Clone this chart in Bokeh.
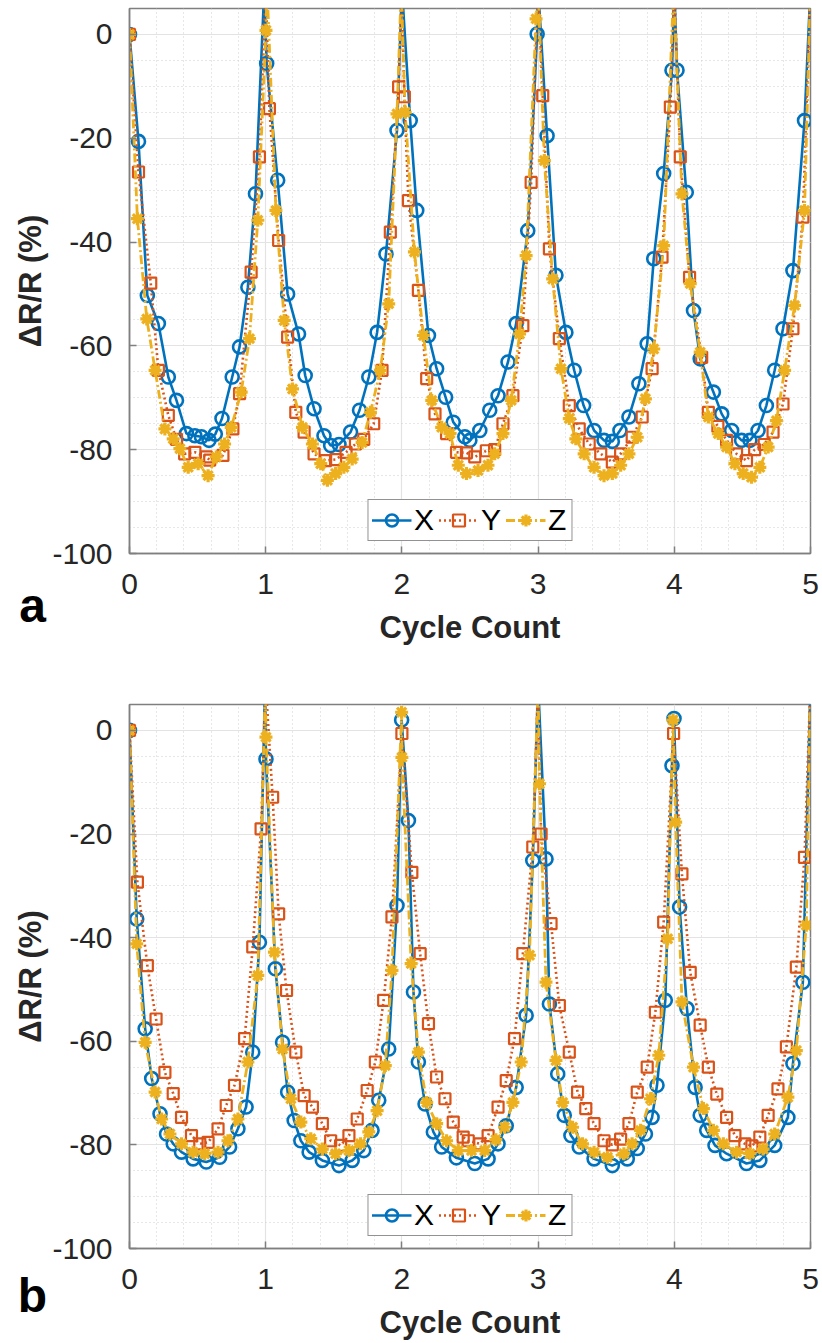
from bokeh.plotting import figure
from bokeh.layouts import column, row
from bokeh.models import (Range1d, SingleIntervalTicker, Legend, LegendItem, Label, Title)
from bokeh.embed import file_html
from bokeh.resources import INLINE
import math

# ---------------- data ----------------
# Panel a
a_x_x = [0, 0.066, 0.131, 0.212, 0.285, 0.345, 0.418, 0.48, 0.528, 0.584, 0.63, 0.679, 0.754, 0.808, 0.869, 0.925, 0.99, 1.007, 1.088, 1.161, 1.241, 1.29, 1.355, 1.428, 1.477, 1.538, 1.623, 1.689, 1.757, 1.818, 1.883, 1.964, 2.0, 2.061, 2.109, 2.195, 2.255, 2.321, 2.377, 2.462, 2.499, 2.572, 2.645, 2.706, 2.779, 2.839, 2.924, 2.993, 3.0, 3.066, 3.131, 3.204, 3.265, 3.334, 3.411, 3.484, 3.545, 3.601, 3.667, 3.74, 3.801, 3.849, 3.922, 3.983, 4.0, 4.02, 4.088, 4.141, 4.19, 4.287, 4.348, 4.421, 4.494, 4.555, 4.615, 4.676, 4.737, 4.798, 4.871, 4.956, 5.0]
a_x_y = [0, -20.6, -50.3, -55.7, -66, -70.5, -76.9, -77.3, -77.5, -78.2, -77, -74, -66, -60.2, -48.7, -30.7, 9, -5.6, -28.1, -50, -57.7, -65.7, -72.1, -77.3, -79.2, -79, -76.6, -72.4, -66, -57.4, -42.3, -18.5, 9, -16.6, -33.9, -58, -64.4, -69.9, -74.7, -77.5, -78.2, -76.3, -72.4, -69.6, -63.1, -55.7, -37.8, 0.1, 9, -19.5, -46.4, -57.4, -64.7, -71.5, -76.3, -78.2, -78.4, -76.3, -73.7, -67.3, -59.6, -43.2, -26.8, -6.9, 9, -6.9, -30.4, -53.2, -62.5, -68.9, -73.1, -76.3, -78.2, -78.2, -76.3, -71.5, -64.7, -56.7, -45.5, -16.6, 9]

a_y_x = [0, 0.066, 0.156, 0.212, 0.285, 0.345, 0.405, 0.48, 0.565, 0.589, 0.686, 0.759, 0.808, 0.893, 0.954, 1.0, 1.027, 1.095, 1.161, 1.221, 1.282, 1.355, 1.44, 1.513, 1.59, 1.659, 1.72, 1.793, 1.854, 1.915, 1.976, 2.0, 2.018, 2.048, 2.121, 2.182, 2.243, 2.328, 2.401, 2.474, 2.535, 2.62, 2.681, 2.742, 2.815, 2.888, 2.949, 3.0, 3.034, 3.083, 3.156, 3.229, 3.302, 3.375, 3.46, 3.545, 3.606, 3.691, 3.764, 3.837, 3.91, 3.971, 4.0, 4.044, 4.112, 4.201, 4.25, 4.32, 4.384, 4.457, 4.53, 4.59, 4.66, 4.725, 4.798, 4.871, 4.944, 5.0]
a_y_y = [0, -26.5, -47.9, -64.7, -73.4, -78, -80.8, -80.5, -81.4, -82, -81.1, -76, -69.2, -45.8, -23.6, 9, -14.3, -39.7, -58.3, -72.8, -76.6, -80.8, -82.1, -81.9, -80.5, -78.9, -78, -75, -64.7, -38.1, -10.1, 9, -12, -32, -49.3, -66.3, -73.1, -76.9, -80.5, -80.6, -81.4, -80.2, -80, -75, -69.6, -56.1, -28.5, 9, -11.8, -41.3, -58.6, -71.5, -76, -78.9, -80.8, -82.4, -80.8, -77.6, -73.7, -64.4, -42.9, -14, 9, -23.6, -46.8, -62.2, -72.8, -75.5, -78.2, -80.8, -82.1, -80, -79, -76.6, -71.2, -56.7, -35.2, 9]

a_z_x = [0, 0.058, 0.127, 0.188, 0.26, 0.321, 0.37, 0.431, 0.504, 0.577, 0.637, 0.698, 0.747, 0.82, 0.881, 0.942, 1.002, 1.01, 1.075, 1.136, 1.197, 1.27, 1.343, 1.404, 1.453, 1.513, 1.574, 1.635, 1.708, 1.769, 1.842, 1.903, 1.964, 1.995, 2.024, 2.092, 2.158, 2.219, 2.292, 2.353, 2.414, 2.474, 2.559, 2.632, 2.681, 2.742, 2.803, 2.864, 2.912, 2.985, 3.0, 3.046, 3.107, 3.168, 3.229, 3.277, 3.338, 3.411, 3.484, 3.545, 3.606, 3.667, 3.728, 3.788, 3.849, 3.922, 3.995, 4.056, 4.117, 4.19, 4.25, 4.323, 4.384, 4.445, 4.506, 4.567, 4.628, 4.689, 4.75, 4.81, 4.883, 4.956, 5.0]
a_z_y = [0, -35.5, -54.8, -64.7, -76, -77.9, -79.8, -83.4, -82.7, -85, -81.4, -78.9, -75.7, -68.9, -58.6, -35.8, 0.8, 9, -33.9, -55.1, -68.3, -75.7, -78.9, -82.7, -85.9, -84.6, -83.4, -81.8, -78.6, -72.8, -64.7, -51.9, -15.3, 9, -15, -41.9, -58, -70.5, -75.7, -76.9, -83, -84.6, -84, -83, -80.8, -76.9, -70.5, -57.7, -42.6, 3, 9, -24.3, -47.1, -64.4, -74, -77.9, -80.8, -83.4, -85, -84.6, -83, -80.8, -77.6, -70.2, -60.6, -40.7, 9, -30.7, -48, -61.2, -73.7, -76.9, -79.5, -82.7, -84.6, -85.3, -83.4, -79.5, -74.4, -64.7, -52.2, -33.9, 9]

# Panel b
b_x_x = [0, 0.053, 0.115, 0.163, 0.224, 0.272, 0.321, 0.382, 0.467, 0.564, 0.662, 0.735, 0.796, 0.856, 0.905, 0.954, 0.995, 1.002, 1.071, 1.124, 1.161, 1.209, 1.258, 1.319, 1.416, 1.538, 1.635, 1.72, 1.781, 1.83, 1.903, 1.964, 1.998, 2.048, 2.085, 2.121, 2.17, 2.231, 2.292, 2.4, 2.535, 2.633, 2.706, 2.766, 2.839, 2.912, 2.961, 3.0, 3.058, 3.083, 3.144, 3.192, 3.241, 3.302, 3.411, 3.545, 3.655, 3.728, 3.788, 3.837, 3.873, 3.934, 3.983, 3.998, 4.039, 4.093, 4.153, 4.19, 4.238, 4.299, 4.384, 4.53, 4.628, 4.737, 4.834, 4.871, 4.944, 5.0]
b_x_y = [0, -36.4, -57.6, -67.2, -74, -77.9, -79.8, -81.4, -82.7, -83.3, -82.4, -80.4, -76.9, -72.7, -62.1, -40.9, 9, -5.5, -46, -60.2, -69.8, -75.3, -79.2, -81.4, -83, -84, -83, -81.1, -77.2, -71.4, -61.5, -33.8, 2, -17.4, -50.5, -64, -72.1, -77.5, -80.4, -82.5, -83.6, -82.7, -79.8, -76.3, -68.9, -55, -25.1, 9, -24.8, -52.8, -66.3, -74.3, -78.2, -80.4, -82.7, -84, -82.7, -80.7, -77.9, -74.7, -68.5, -52.1, -6.8, 2.3, -34.1, -53.7, -68.9, -74.3, -77.2, -80.1, -81.7, -83.6, -83, -80.1, -74.7, -64.3, -48.6, 9]

b_y_x = [0, 0.058, 0.131, 0.195, 0.26, 0.321, 0.382, 0.455, 0.516, 0.577, 0.65, 0.71, 0.771, 0.845, 0.905, 0.966, 1.0, 1.051, 1.095, 1.153, 1.221, 1.282, 1.343, 1.416, 1.477, 1.55, 1.611, 1.672, 1.745, 1.805, 1.866, 1.927, 2.0, 2.073, 2.134, 2.195, 2.255, 2.316, 2.377, 2.45, 2.487, 2.572, 2.633, 2.706, 2.766, 2.827, 2.888, 2.961, 3.0, 3.022, 3.095, 3.156, 3.229, 3.29, 3.35, 3.411, 3.484, 3.545, 3.606, 3.667, 3.728, 3.801, 3.861, 3.922, 3.995, 4.056, 4.117, 4.19, 4.25, 4.312, 4.384, 4.445, 4.518, 4.57, 4.628, 4.689, 4.761, 4.823, 4.896, 4.956, 5.0]
b_y_y = [0, -29.3, -45.4, -55.7, -66, -70.1, -74.7, -78.2, -79.8, -79.5, -76.9, -72.4, -68.5, -59.5, -41.8, -19, 9, -12.9, -35.4, -50.2, -62.1, -70.5, -72.7, -75.9, -79.2, -80.1, -78.2, -75, -69.5, -64, -52.1, -36, -0.6, -27.4, -43.1, -56.6, -66.9, -71.1, -75.6, -78.5, -79.2, -79.8, -78.2, -72.7, -67.6, -59.5, -43.1, -22.5, 9, -20, -37.3, -53.1, -62.1, -69.8, -73, -75.9, -79.2, -80, -78.9, -75.9, -69.8, -65, -54.4, -37, -0.6, -27.7, -46.7, -56.9, -65, -70.2, -74.7, -78.2, -79.8, -80.2, -78.5, -74.3, -69.2, -61.1, -45.7, -24.5, 9]

b_z_x = [0, 0.053, 0.115, 0.188, 0.236, 0.297, 0.382, 0.467, 0.552, 0.65, 0.723, 0.796, 0.869, 0.942, 0.998, 1.002, 1.064, 1.124, 1.185, 1.258, 1.331, 1.416, 1.513, 1.611, 1.696, 1.757, 1.818, 1.878, 1.927, 1.998, 2.0, 2.068, 2.121, 2.182, 2.255, 2.328, 2.414, 2.511, 2.608, 2.69, 2.754, 2.815, 2.876, 2.937, 3.0, 3.01, 3.058, 3.131, 3.18, 3.253, 3.326, 3.411, 3.509, 3.63, 3.69, 3.752, 3.825, 3.886, 3.951, 3.99, 4.01, 4.056, 4.141, 4.214, 4.287, 4.36, 4.457, 4.555, 4.652, 4.737, 4.834, 4.896, 4.969, 5.0]
b_z_y = [0, -41.2, -60.2, -69.8, -75, -77.9, -79.8, -81.4, -81.7, -81.4, -79.2, -75, -64, -47.3, 9, -1.3, -42.8, -61.5, -71.1, -75.6, -78.8, -80.8, -81.7, -81.1, -79.8, -77.5, -73.4, -64.7, -46.3, 3.5, -5.2, -45, -62.1, -71.8, -75.9, -79.2, -81.1, -81.1, -81.1, -79, -76.6, -71.8, -64, -43.4, 9, -10.3, -48.6, -63.7, -71.8, -76.6, -79.8, -81.4, -82.4, -81.7, -79.8, -77.2, -71.1, -62.7, -40.2, 2, -17.7, -52.4, -65, -73, -77.2, -79.8, -81.4, -81.7, -80.8, -77.9, -70.8, -61.8, -37.6, 9]

series_names = ["X", "Y", "Z"]
panel_letters = ["a", "b"]
x_axis_title = "Cycle Count"
y_axis_title = "\u0394R/R (%)"
y_tick_values = [0, -20, -40, -60, -80, -100]
y_tick_labels = ["0", "-20", "-40", "-60", "-80", "-100"]
y_lo, y_hi = -100, 5

# ---------------- styling ----------------
COLORS = {"X": "#0072BD", "Y": "#D95319", "Z": "#EDB120"}
FONT = "Liberation Sans"
AX = "#7f7f7f"
TXT = "#262626"
STRIP_W = 49          # left strip that carries the y title and the panel letter
STRIP_PAD = 15        # left border of the strip, so the letter centres near x = 32
PANEL_W = 822 - STRIP_W


def make_panel(data, height, top, bottom):
    p = figure(width=PANEL_W, height=height, output_backend="svg", toolbar_location=None,
               x_range=Range1d(0, 5), y_range=Range1d(y_lo, y_hi),
               min_border_left=126 - STRIP_W, min_border_right=12,
               min_border_top=top, min_border_bottom=bottom,
               x_axis_label=x_axis_title)
    p.background_fill_color = "white"
    p.border_fill_color = "white"
    p.outline_line_color = AX
    p.outline_line_width = 1.5

    p.xaxis.ticker = SingleIntervalTicker(interval=1, num_minor_ticks=5)
    p.yaxis.ticker = SingleIntervalTicker(interval=20, num_minor_ticks=4)
    p.yaxis.major_label_overrides = dict(zip(y_tick_values, y_tick_labels))
    for ax in (p.xaxis[0], p.yaxis[0]):
        ax.axis_line_color = AX
        ax.axis_line_width = 1.5
        ax.major_tick_line_color = AX
        ax.major_tick_line_width = 1.5
        ax.major_tick_in = 7
        ax.major_tick_out = 0
        ax.minor_tick_line_color = None
        ax.major_label_text_font = FONT
        ax.major_label_text_font_size = "30px"
        ax.major_label_text_color = TXT
        ax.axis_label_text_font = FONT
        ax.axis_label_text_font_size = "31px"
        ax.axis_label_text_font_style = "bold"
        ax.axis_label_text_color = TXT
    p.xaxis.major_label_standoff = 16
    p.xaxis.axis_label_standoff = 13
    p.yaxis.major_label_standoff = 13

    p.grid.grid_line_color = "#e3e3e3"
    p.grid.grid_line_width = 1.2
    p.grid.minor_grid_line_color = "#cfcfcf"
    p.grid.minor_grid_line_dash = "1 3"
    p.grid.minor_grid_line_width = 1

    items = []
    xs, ys = data["X"]
    l1 = p.line(xs, ys, line_color=COLORS["X"], line_width=2.6)
    m1 = p.scatter(xs, ys, marker="circle", size=13, fill_color=None,
                   line_color=COLORS["X"], line_width=2.6)
    items.append(LegendItem(label=series_names[0], renderers=[l1, m1]))
    xs, ys = data["Y"]
    l2 = p.line(xs, ys, line_color=COLORS["Y"], line_width=2.6, line_dash="2 3")
    m2 = p.scatter(xs, ys, marker="square", size=11, fill_color=None,
                   line_color=COLORS["Y"], line_width=2.2)
    items.append(LegendItem(label=series_names[1], renderers=[l2, m2]))
    xs, ys = data["Z"]
    l3 = p.line(xs, ys, line_color=COLORS["Z"], line_width=2.8, line_dash="9 3 2 3")
    m3 = p.scatter(xs, ys, marker="asterisk", size=13,
                   line_color=COLORS["Z"], line_width=3.2)
    items.append(LegendItem(label=series_names[2], renderers=[l3, m3]))

    leg = Legend(items=items, orientation="horizontal", location="bottom_center")
    leg.label_text_font = FONT
    leg.label_text_font_size = "30px"
    leg.label_text_color = "black"
    leg.glyph_width = 40
    leg.glyph_height = 30
    leg.label_standoff = 3
    leg.spacing = 4
    leg.padding = 3
    leg.margin = 12
    leg.border_line_color = "#262626"
    leg.border_line_width = 1
    leg.background_fill_color = "white"
    leg.background_fill_alpha = 1
    p.add_layout(leg, "center")
    return p


def make_strip(letter, height, top, bottom, letter_standoff):
    # left strip whose frame matches the panel frame vertically; it carries the
    # rotated y title (inside the frame) and the panel letter (below the frame)
    fw = STRIP_W - STRIP_PAD
    f = figure(width=STRIP_W, height=height, output_backend="svg", toolbar_location=None,
               x_range=Range1d(0, fw), y_range=Range1d(y_lo, y_hi),
               x_axis_type=None, y_axis_type=None,
               min_border_left=STRIP_PAD, min_border_right=0,
               min_border_top=top, min_border_bottom=bottom)
    f.outline_line_color = None
    f.grid.visible = False
    f.background_fill_color = "white"
    f.border_fill_color = "white"
    f.add_layout(Label(x=30 - STRIP_PAD, y=(y_lo + y_hi) / 2, text=y_axis_title,
                       angle=math.pi / 2, text_font=FONT, text_font_size="31px",
                       text_font_style="bold", text_color=TXT, text_align="center",
                       text_baseline="middle"))
    f.add_layout(Title(text=letter, align="center", vertical_align="bottom",
                       standoff=letter_standoff, text_font=FONT, text_font_size="48px",
                       text_font_style="bold", text_color="black"), "below")
    return f


pa = make_panel({"X": (a_x_x, a_x_y), "Y": (a_y_x, a_y_y), "Z": (a_z_x, a_z_y)}, 660, 8, 107)
pb = make_panel({"X": (b_x_x, b_x_y), "Y": (b_y_x, b_y_y), "Z": (b_z_x, b_z_y)}, 683, 44, 95)
sa = make_strip(panel_letters[0], 660, 8, 107, 46)
sb = make_strip(panel_letters[1], 683, 44, 95, 36)

layout = column(row(sa, pa, spacing=0), row(sb, pb, spacing=0), spacing=0)
open("out.html", "w").write(file_html(layout, INLINE))
